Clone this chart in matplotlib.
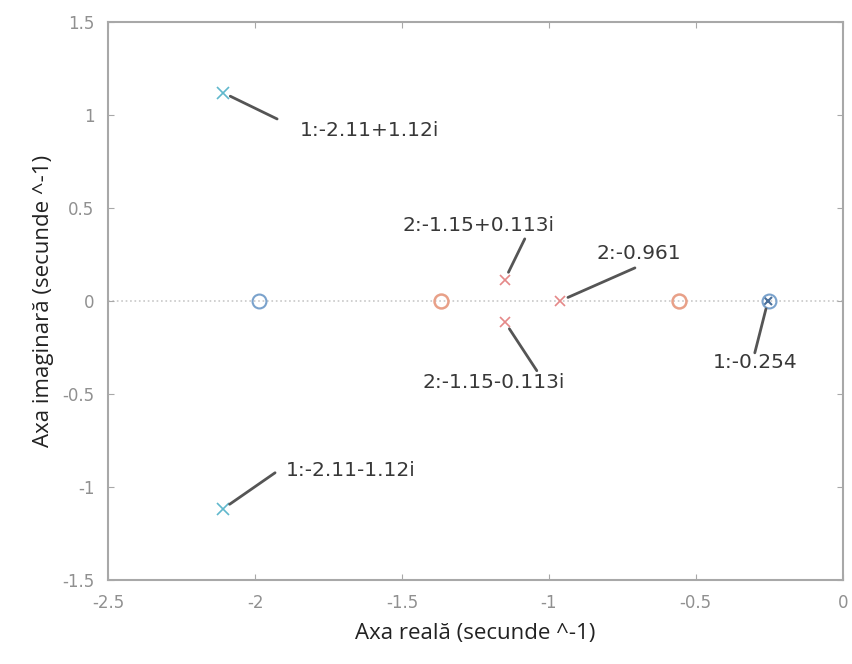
import matplotlib.pyplot as plt

# poles / zeros of the two systems (real, imag)
poli1_re = [-2.11, -2.11, -0.254]
poli1_im = [1.12, -1.12, 0.0]
zero1_re = [-1.985, -0.252]
zero1_im = [0.0, 0.0]

poli2_re = [-1.15, -1.15, -0.961]
poli2_im = [0.113, -0.113, 0.0]
zero2_re = [-1.367, -0.558]
zero2_im = [0.0, 0.0]

# data tips: label, point, end of leader line, text position (left, centre)
etichete = ['1:-2.11+1.12i', '1:-2.11-1.12i', '2:-1.15+0.113i',
            '2:-1.15-0.113i', '2:-0.961', '1:-0.254']
puncte = [(-2.11, 1.12), (-2.11, -1.12), (-1.15, 0.113),
          (-1.15, -0.113), (-0.961, 0.0), (-0.254, 0.0)]
capete = [(-1.925, 0.978), (-1.932, -0.925), (-1.082, 0.333),
          (-1.041, -0.376), (-0.707, 0.177), (-0.299, -0.280)]
pozitii = [(-1.847, 0.914), (-1.895, -0.914), (-1.497, 0.403),
           (-1.429, -0.441), (-0.837, 0.253), (-0.442, -0.333)]

fig = plt.figure(figsize=(8.52, 6.64), dpi=100)
ax = fig.add_axes([0.127, 0.127, 0.862, 0.840])

gri = '#a8a8a8'
ax.axhline(0, color='#c8c8c8', lw=1.2, ls=':', zorder=1)

ax.plot(poli1_re[:2], poli1_im[:2], 'x', color='#60b8cc', ms=8, mew=1.2, zorder=3)
ax.plot(poli1_re[2:], poli1_im[2:], 'x', color='#4a6f9a', ms=6, mew=1.5, zorder=3)
ax.plot(zero1_re, zero1_im, 'o', mfc='none', color='#7aa2cc', ms=10, mew=1.5, zorder=3)
ax.plot(poli2_re, poli2_im, 'x', color='#e58888', ms=7, mew=1.2, zorder=3)
ax.plot(zero2_re, zero2_im, 'o', mfc='none', color='#e8a088', ms=10, mew=1.8, zorder=3)

for txt, p, c, t in zip(etichete, puncte, capete, pozitii):
    ax.annotate('', xy=c, xytext=p,
                arrowprops=dict(arrowstyle='-', color='#555555', lw=2,
                                shrinkA=6, shrinkB=0))
    ax.text(t[0], t[1], txt, fontsize=14.5, color='#383838',
            va='center', ha='left', family='DejaVu Sans')

ax.set_xlim(-2.5, 0)
ax.set_ylim(-1.5, 1.5)
ax.set_xticks([-2.5, -2, -1.5, -1, -0.5, 0])
ax.set_xticklabels(['-2.5', '-2', '-1.5', '-1', '-0.5', '0'])
ax.set_yticks([-1.5, -1, -0.5, 0, 0.5, 1, 1.5])
ax.set_yticklabels(['-1.5', '-1', '-0.5', '0', '0.5', '1', '1.5'])
ax.tick_params(direction='in', length=4, color=gri, labelcolor='#909090',
               labelsize=12, top=True, right=True, pad=10)
for s in ax.spines.values():
    s.set_color(gri)
    s.set_linewidth(1.5)

ax.set_xlabel('Axa reală (secunde ^-1)', fontsize=16, family='Open Sans',
              color='#222222', labelpad=8)
ax.set_ylabel('Axa imaginară (secunde ^-1)', fontsize=16, family='Open Sans',
              color='#222222', labelpad=6)

fig.savefig('out.png', dpi=100)
